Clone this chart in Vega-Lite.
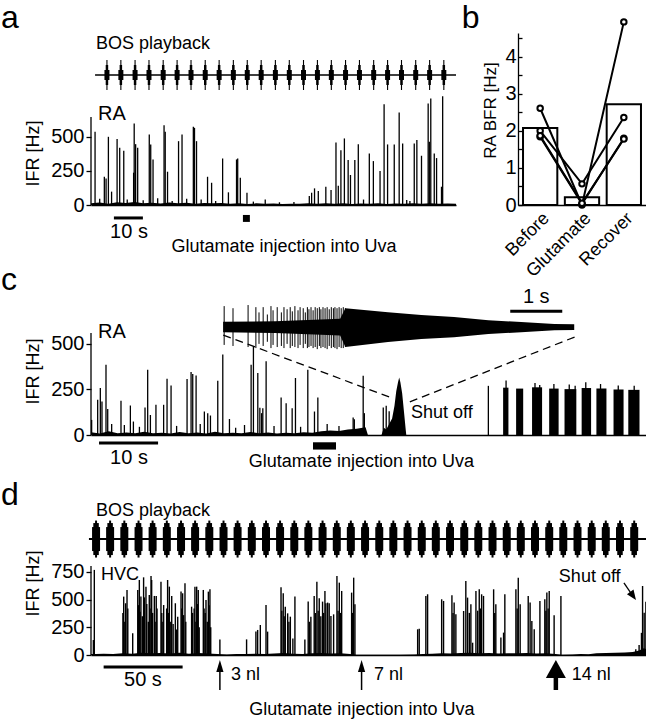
{
  "$schema": "https://vega.github.io/schema/vega-lite/v6.json",
  "background": "white",
  "padding": {"left": 0, "top": 2, "right": 0, "bottom": 0},
  "bounds": "flush",
  "spacing": 427,
  "config": {
    "view": {"stroke": null},
    "font": "Liberation Sans",
    "axis": {"grid": false, "domainColor": "black", "domainWidth": 1.3, "tickColor": "black", "tickWidth": 1.3, "tickSize": 5, "labelColor": "black", "labelFontSize": 20, "labelPadding": 2, "titleColor": "black", "titleFontSize": 18, "titleFontWeight": "normal", "labelFont": "Liberation Sans", "titleFont": "Liberation Sans"},
    "text": {"font": "Liberation Sans", "color": "black"}
  },
  "datasets": {
    "bos_a": [{"t":5.5,"v":0},{"t":10.3,"v":0},{"t":15.2,"v":0},{"t":20.0,"v":0},{"t":24.9,"v":0},{"t":29.7,"v":0},{"t":34.5,"v":0},{"t":39.4,"v":0},{"t":44.2,"v":0},{"t":49.1,"v":0},{"t":53.9,"v":0},{"t":58.7,"v":0},{"t":63.6,"v":0},{"t":68.4,"v":0},{"t":73.3,"v":0},{"t":78.1,"v":0},{"t":82.9,"v":0},{"t":87.8,"v":0},{"t":92.6,"v":0},{"t":97.5,"v":0},{"t":102.3,"v":0},{"t":107.1,"v":0},{"t":112.0,"v":0},{"t":116.8,"v":0},{"t":121.7,"v":0}],
    "a_base": [{"t":0,"f":12},{"t":3,"f":18},{"t":6,"f":10},{"t":9,"f":20},{"t":12,"f":14},{"t":15,"f":22},{"t":18,"f":12},{"t":21,"f":16},{"t":24,"f":11},{"t":27,"f":18},{"t":30,"f":13},{"t":33,"f":17},{"t":36,"f":10},{"t":39,"f":15},{"t":42,"f":12},{"t":45,"f":14},{"t":48,"f":9},{"t":51,"f":13},{"t":54,"f":8},{"t":57,"f":12},{"t":60,"f":9},{"t":63,"f":11},{"t":66,"f":8},{"t":69,"f":10},{"t":72,"f":9},{"t":75,"f":12},{"t":78,"f":10},{"t":81,"f":13},{"t":84,"f":9},{"t":87,"f":12},{"t":90,"f":8},{"t":93,"f":11},{"t":96,"f":9},{"t":99,"f":12},{"t":102,"f":8},{"t":105,"f":11},{"t":108,"f":9},{"t":111,"f":12},{"t":114,"f":10},{"t":117,"f":13},{"t":120,"f":9},{"t":123,"f":11},{"t":125.9,"f":10}],
    "a_spk": [{"t":1.4,"f":537},{"t":4.6,"f":207},{"t":5.2,"f":195},{"t":6.0,"f":500},{"t":7.1,"f":98},{"t":9.0,"f":483},{"t":9.9,"f":420},{"t":11.3,"f":398},{"t":14.7,"f":237},{"t":14.9,"f":598},{"t":15.4,"f":446},{"t":16.1,"f":420},{"t":20.1,"f":517},{"t":20.6,"f":444},{"t":21.4,"f":334},{"t":25.2,"f":585},{"t":25.6,"f":537},{"t":26.4,"f":244},{"t":30.2,"f":468},{"t":31.4,"f":517},{"t":35.3,"f":573},{"t":35.7,"f":566},{"t":36.4,"f":468},{"t":40.2,"f":207},{"t":41.6,"f":163},{"t":45.4,"f":341},{"t":47.4,"f":93},{"t":50.2,"f":334},{"t":50.6,"f":341},{"t":51.5,"f":200},{"t":53.8,"f":90},{"t":60.1,"f":40},{"t":75.3,"f":66},{"t":76.1,"f":90},{"t":77.1,"f":122},{"t":78.4,"f":102},{"t":81.0,"f":134},{"t":82.8,"f":110},{"t":84.5,"f":459},{"t":85.3,"f":141},{"t":86.2,"f":402},{"t":87.4,"f":488},{"t":88.7,"f":329},{"t":89.5,"f":220},{"t":91.0,"f":329},{"t":92.2,"f":446},{"t":96.0,"f":378},{"t":97.4,"f":322},{"t":99.7,"f":249},{"t":101.1,"f":739},{"t":102.3,"f":444},{"t":104.6,"f":444},{"t":106.3,"f":678},{"t":107.5,"f":451},{"t":108.9,"f":37},{"t":111.5,"f":451},{"t":112.4,"f":476},{"t":114.0,"f":361},{"t":116.3,"f":744},{"t":116.7,"f":463},{"t":117.2,"f":780},{"t":118.4,"f":378},{"t":119.2,"f":344},{"t":120.9,"f":134},{"t":121.3,"f":798},{"t":3.0,"f":45},{"t":12.5,"f":40},{"t":18.0,"f":35},{"t":23.0,"f":50},{"t":28.0,"f":30},{"t":33.0,"f":45},{"t":38.0,"f":40},{"t":43.0,"f":30},{"t":56.0,"f":25},{"t":65.0,"f":20},{"t":70.0,"f":22},{"t":94.0,"f":40},{"t":110.0,"f":30}],
    "bars": [{"cond":"Before","v":2.08},{"cond":"Glutamate","v":0.21},{"cond":"Recover","v":2.72}],
    "units": [{"unit":"u1","cond":"Before","v":2.61},{"unit":"u1","cond":"Glutamate","v":0.0},{"unit":"u1","cond":"Recover","v":4.94},{"unit":"u2","cond":"Before","v":2.0},{"unit":"u2","cond":"Glutamate","v":0.57},{"unit":"u2","cond":"Recover","v":2.36},{"unit":"u3","cond":"Before","v":1.84},{"unit":"u3","cond":"Glutamate","v":0.03},{"unit":"u3","cond":"Recover","v":1.8},{"unit":"u4","cond":"Before","v":1.87},{"unit":"u4","cond":"Glutamate","v":0.05},{"unit":"u4","cond":"Recover","v":1.78}],
    "c_base": [{"t":0,"f":15},{"t":1.5,"f":8},{"t":3,"f":20},{"t":4.5,"f":10},{"t":6,"f":14},{"t":7.5,"f":9},{"t":9,"f":18},{"t":10.5,"f":10},{"t":12,"f":12},{"t":13.5,"f":8},{"t":15,"f":16},{"t":16.5,"f":10},{"t":18,"f":14},{"t":19.5,"f":8},{"t":21,"f":18},{"t":22.5,"f":10},{"t":24,"f":13},{"t":25.5,"f":9},{"t":27,"f":16},{"t":28.5,"f":10},{"t":30,"f":14},{"t":31.5,"f":8},{"t":33,"f":13},{"t":34.5,"f":10},{"t":36,"f":15},{"t":37.5,"f":12},{"t":39,"f":20},{"t":40.5,"f":25},{"t":42,"f":22},{"t":43.5,"f":30},{"t":45,"f":35},{"t":46.5,"f":42},{"t":46.9,"f":0}],
    "c_bump": [{"t":49.2,"f":0},{"t":49.6,"f":40},{"t":50.0,"f":30},{"t":50.5,"f":60},{"t":51.0,"f":90},{"t":51.4,"f":160},{"t":51.7,"f":240},{"t":52.0,"f":290},{"t":52.2,"f":316},{"t":52.4,"f":290},{"t":52.7,"f":230},{"t":53.0,"f":130},{"t":53.3,"f":30},{"t":53.4,"f":0}],
    "c_spk": [{"t":0.11,"f":83},{"t":1.13,"f":193},{"t":1.58,"f":258},{"t":1.86,"f":184},{"t":2.54,"f":386},{"t":2.83,"f":143},{"t":5.08,"f":188},{"t":5.65,"f":55},{"t":6.67,"f":162},{"t":7.18,"f":74},{"t":9.15,"f":151},{"t":9.6,"f":359},{"t":10.06,"f":110},{"t":11.0,"f":166},{"t":12.3,"f":166},{"t":12.88,"f":309},{"t":13.56,"f":272},{"t":16.27,"f":307},{"t":16.95,"f":346},{"t":17.23,"f":335},{"t":17.8,"f":327},{"t":19.2,"f":129},{"t":19.77,"f":120},{"t":20.23,"f":107},{"t":21.47,"f":298},{"t":22.32,"f":442},{"t":23.45,"f":88},{"t":27.12,"f":386},{"t":27.51,"f":488},{"t":28.25,"f":340},{"t":28.6,"f":150},{"t":28.9,"f":120},{"t":29.1,"f":147},{"t":29.66,"f":405},{"t":32.2,"f":206},{"t":33.05,"f":175},{"t":34.07,"f":147},{"t":34.63,"f":313},{"t":36.72,"f":359},{"t":37.85,"f":129},{"t":38.42,"f":206},{"t":44.4,"f":96},{"t":44.6,"f":86},{"t":46.1,"f":326},{"t":46.3,"f":120},{"t":49.5,"f":151},{"t":50.0,"f":160},{"t":50.5,"f":130},{"t":67.3,"f":270},{"t":3.5,"f":60},{"t":8.2,"f":45},{"t":14.5,"f":50},{"t":18.5,"f":60},{"t":24.5,"f":40},{"t":26.0,"f":55},{"t":31.0,"f":50},{"t":35.5,"f":45},{"t":40.0,"f":60},{"t":42.0,"f":50},{"t":70.3,"f":300},{"t":75.2,"f":285},{"t":76.0,"f":275},{"t":78.4,"f":280},{"t":81.0,"f":278},{"t":82.0,"f":270},{"t":83.8,"f":290},{"t":86.3,"f":280},{"t":89.3,"f":272},{"t":92.0,"f":270}],
    "c_burst": [{"t":69.8,"t2":70.7,"f":260},{"t":72.0,"t2":73.2,"f":255},{"t":74.7,"t2":76.4,"f":262},{"t":77.6,"t2":79.2,"f":255},{"t":80.2,"t2":82.2,"f":252},{"t":83.1,"t2":84.7,"f":258},{"t":85.6,"t2":87.3,"f":255},{"t":88.5,"t2":90.2,"f":250},{"t":91.0,"t2":92.9,"f":248}],
    "inset_env": [{"ti":0,"w":0.25,"w2":-0.25},{"ti":1.0,"w":0.28,"w2":-0.28},{"ti":2.25,"w":0.4,"w2":-0.4},{"ti":2.35,"w":0.9,"w2":-0.95},{"ti":3.17,"w":0.71,"w2":-0.71},{"ti":3.81,"w":0.57,"w2":-0.57},{"ti":4.44,"w":0.48,"w2":-0.48},{"ti":5.1,"w":0.33,"w2":-0.33},{"ti":5.73,"w":0.24,"w2":-0.24},{"ti":6.37,"w":0.15,"w2":-0.15},{"ti":6.75,"w":0.14,"w2":-0.14}],
    "inset_spk": [{"ti":0.02,"w":1.0,"w2":-0.85},{"ti":0.19,"w":0.9,"w2":-0.9},{"ti":0.48,"w":1.05,"w2":-0.95},{"ti":0.63,"w":0.95,"w2":-1.0},{"ti":0.69,"w":0.7,"w2":-0.8},{"ti":0.77,"w":0.95,"w2":-0.9},{"ti":0.85,"w":0.6,"w2":-0.7},{"ti":0.92,"w":1.0,"w2":-1.0},{"ti":0.96,"w":0.8,"w2":-0.85},{"ti":1.04,"w":0.95,"w2":-0.95},{"ti":1.12,"w":0.7,"w2":-0.9},{"ti":1.17,"w":0.95,"w2":-1.0},{"ti":1.23,"w":0.85,"w2":-0.8},{"ti":1.29,"w":0.95,"w2":-1.0},{"ti":1.33,"w":0.75,"w2":-0.9},{"ti":1.38,"w":1.0,"w2":-0.95},{"ti":1.44,"w":0.8,"w2":-1.0},{"ti":1.48,"w":0.95,"w2":-0.85},{"ti":1.54,"w":0.9,"w2":-1.0},{"ti":1.58,"w":0.7,"w2":-0.8},{"ti":1.62,"w":0.95,"w2":-1.0},{"ti":1.65,"w":0.85,"w2":-0.95},{"ti":1.69,"w":0.95,"w2":-0.9},{"ti":1.73,"w":0.8,"w2":-1.0},{"ti":1.77,"w":0.95,"w2":-0.95},{"ti":1.81,"w":0.9,"w2":-1.05},{"ti":1.85,"w":0.95,"w2":-0.9},{"ti":1.88,"w":0.85,"w2":-1.0},{"ti":1.92,"w":0.95,"w2":-0.95},{"ti":1.96,"w":0.9,"w2":-1.0},{"ti":2.0,"w":0.95,"w2":-1.05},{"ti":2.04,"w":0.85,"w2":-0.9},{"ti":2.08,"w":0.95,"w2":-1.0},{"ti":2.12,"w":0.9,"w2":-0.95},{"ti":2.15,"w":0.95,"w2":-1.0},{"ti":2.19,"w":0.9,"w2":-1.05},{"ti":2.23,"w":0.95,"w2":-0.95},{"ti":2.27,"w":0.9,"w2":-1.0},{"ti":2.31,"w":0.95,"w2":-1.0},{"ti":2.35,"w":0.9,"w2":-0.95}],
    "bos_d": [{"t":3.2,"v":0},{"t":12.1,"v":0},{"t":21.1,"v":0},{"t":30.1,"v":0},{"t":39.0,"v":0},{"t":48.0,"v":0},{"t":57.0,"v":0},{"t":65.9,"v":0},{"t":74.9,"v":0},{"t":83.9,"v":0},{"t":92.8,"v":0},{"t":101.8,"v":0},{"t":110.8,"v":0},{"t":119.7,"v":0},{"t":128.7,"v":0},{"t":137.6,"v":0},{"t":146.6,"v":0},{"t":155.6,"v":0},{"t":164.5,"v":0},{"t":173.5,"v":0},{"t":182.5,"v":0},{"t":191.4,"v":0},{"t":200.4,"v":0},{"t":209.4,"v":0},{"t":218.3,"v":0},{"t":227.3,"v":0},{"t":236.3,"v":0},{"t":245.2,"v":0},{"t":254.2,"v":0},{"t":263.2,"v":0},{"t":272.1,"v":0},{"t":281.1,"v":0},{"t":290.1,"v":0},{"t":299.0,"v":0},{"t":308.0,"v":0},{"t":317.0,"v":0},{"t":325.9,"v":0},{"t":334.9,"v":0},{"t":343.9,"v":0}],
    "d_base": [{"t":0,"f":10},{"t":3,"f":8},{"t":8,"f":12},{"t":14,"f":10},{"t":20,"f":15},{"t":26,"f":12},{"t":32,"f":20},{"t":38,"f":15},{"t":44,"f":18},{"t":50,"f":14},{"t":56,"f":20},{"t":62,"f":12},{"t":68,"f":18},{"t":74,"f":14},{"t":80,"f":8},{"t":86,"f":5},{"t":92,"f":10},{"t":98,"f":8},{"t":104,"f":12},{"t":110,"f":10},{"t":116,"f":14},{"t":122,"f":18},{"t":128,"f":12},{"t":134,"f":10},{"t":140,"f":15},{"t":146,"f":18},{"t":152,"f":14},{"t":158,"f":16},{"t":164,"f":10},{"t":168,"f":3},{"t":175,"f":2},{"t":185,"f":3},{"t":195,"f":2},{"t":205,"f":4},{"t":210,"f":10},{"t":216,"f":12},{"t":222,"f":15},{"t":228,"f":14},{"t":234,"f":18},{"t":240,"f":20},{"t":246,"f":16},{"t":252,"f":18},{"t":258,"f":14},{"t":264,"f":16},{"t":270,"f":15},{"t":276,"f":18},{"t":282,"f":14},{"t":288,"f":16},{"t":294,"f":10},{"t":298,"f":3},{"t":305,"f":5},{"t":310,"f":10},{"t":315,"f":6},{"t":320,"f":15},{"t":326,"f":18},{"t":332,"f":20},{"t":338,"f":22},{"t":343,"f":28},{"t":347,"f":40},{"t":350,"f":60},{"t":352,"f":50}],
    "d_spk": [{"t":1.5,"f":135},{"t":2.1,"f":768},{"t":20.2,"f":380},{"t":20.7,"f":527},{"t":21.4,"f":300},{"t":21.9,"f":467},{"t":22.8,"f":587},{"t":23.3,"f":420},{"t":26.4,"f":196},{"t":29.6,"f":587},{"t":30.1,"f":450},{"t":30.6,"f":677},{"t":31.1,"f":390},{"t":31.6,"f":527},{"t":32.5,"f":350},{"t":33.3,"f":701},{"t":33.8,"f":520},{"t":34.8,"f":617},{"t":35.3,"f":460},{"t":36.3,"f":300},{"t":36.9,"f":542},{"t":37.4,"f":420},{"t":38.0,"f":713},{"t":38.4,"f":677},{"t":39.0,"f":380},{"t":40.1,"f":533},{"t":40.6,"f":300},{"t":41.3,"f":533},{"t":41.8,"f":420},{"t":44.3,"f":662},{"t":44.8,"f":380},{"t":45.5,"f":300},{"t":46.0,"f":451},{"t":47.9,"f":420},{"t":48.5,"f":677},{"t":49.1,"f":380},{"t":49.6,"f":617},{"t":50.5,"f":300},{"t":51.1,"f":533},{"t":52.0,"f":280},{"t":53.4,"f":467},{"t":54.0,"f":230},{"t":54.9,"f":346},{"t":57.0,"f":572},{"t":57.5,"f":420},{"t":58.0,"f":557},{"t":58.6,"f":360},{"t":59.5,"f":647},{"t":60.0,"f":300},{"t":63.7,"f":436},{"t":64.3,"f":380},{"t":65.3,"f":420},{"t":65.8,"f":617},{"t":66.4,"f":300},{"t":66.9,"f":617},{"t":67.4,"f":460},{"t":67.9,"f":587},{"t":68.5,"f":250},{"t":71.1,"f":587},{"t":71.6,"f":420},{"t":72.3,"f":380},{"t":72.8,"f":497},{"t":73.6,"f":300},{"t":74.3,"f":572},{"t":74.8,"f":450},{"t":75.3,"f":593},{"t":75.8,"f":250},{"t":81.6,"f":141},{"t":98.5,"f":141},{"t":104.4,"f":211},{"t":105.5,"f":226},{"t":107.2,"f":271},{"t":110.8,"f":451},{"t":111.8,"f":211},{"t":120.3,"f":611},{"t":120.8,"f":400},{"t":121.7,"f":557},{"t":122.3,"f":350},{"t":123.0,"f":436},{"t":124.5,"f":376},{"t":125.3,"f":300},{"t":126.2,"f":346},{"t":127.8,"f":150},{"t":129.1,"f":527},{"t":135.4,"f":141},{"t":137.5,"f":482},{"t":138.2,"f":300},{"t":139.2,"f":346},{"t":141.3,"f":533},{"t":142.0,"f":380},{"t":143.0,"f":662},{"t":143.8,"f":400},{"t":144.5,"f":512},{"t":145.5,"f":350},{"t":146.6,"f":482},{"t":147.3,"f":380},{"t":148.1,"f":578},{"t":148.7,"f":467},{"t":149.8,"f":473},{"t":150.8,"f":467},{"t":151.9,"f":352},{"t":153.6,"f":367},{"t":155.7,"f":713},{"t":156.4,"f":400},{"t":157.2,"f":653},{"t":158.0,"f":380},{"t":158.7,"f":578},{"t":165.0,"f":563},{"t":165.6,"f":380},{"t":166.3,"f":698},{"t":167.1,"f":457},{"t":206.8,"f":232},{"t":207.8,"f":238},{"t":212.0,"f":533},{"t":213.1,"f":548},{"t":222.0,"f":503},{"t":223.2,"f":488},{"t":228.5,"f":539},{"t":229.2,"f":380},{"t":229.9,"f":473},{"t":231.0,"f":367},{"t":235.9,"f":397},{"t":237.3,"f":668},{"t":238.4,"f":518},{"t":239.5,"f":380},{"t":240.5,"f":457},{"t":241.6,"f":111},{"t":243.7,"f":578},{"t":244.8,"f":400},{"t":245.8,"f":593},{"t":246.5,"f":420},{"t":247.3,"f":548},{"t":248.5,"f":533},{"t":254.9,"f":593},{"t":255.6,"f":380},{"t":256.3,"f":457},{"t":259.5,"f":157},{"t":261.2,"f":202},{"t":262.0,"f":548},{"t":269.0,"f":593},{"t":269.8,"f":420},{"t":270.5,"f":698},{"t":271.7,"f":457},{"t":276.8,"f":533},{"t":278.0,"f":473},{"t":279.1,"f":307},{"t":280.6,"f":232},{"t":284.2,"f":488},{"t":287.3,"f":503},{"t":288.0,"f":400},{"t":288.6,"f":563},{"t":289.4,"f":420},{"t":290.1,"f":578},{"t":293.2,"f":358},{"t":297.5,"f":533},{"t":344.9,"f":51},{"t":347.0,"f":90},{"t":348.5,"f":200},{"t":349.2,"f":623},{"t":350.2,"f":382},{"t":351.3,"f":480}]
  },
  "hconcat": [
    {
      "vconcat": [
        {
          "width": 365, "height": 172,
          "layer": [
            {
              "encoding": {
                "x": {"field": "t", "type": "quantitative", "scale": {"domain": [0, 125.9], "nice": false, "zero": false}, "axis": {"labels": false, "ticks": false, "title": null, "domain": true}},
                "y": {"field": "f", "type": "quantitative", "scale": {"domain": [0, 1261], "nice": false}, "axis": {"values": [0, 250, 500], "domain": false, "title": "IFR [Hz]", "titleX": -49, "titleY": 120}}
              },
              "layer": [
                {"data": {"name": "a_base"}, "mark": {"type": "area", "color": "black"}},
                {"data": {"name": "a_spk"}, "mark": {"type": "rule", "color": "black", "strokeWidth": 1.3}, "encoding": {"y2": {"datum": 0}}},
                {"data": {"values": [{"t": 0, "f": 0, "f2": 645}]}, "mark": {"type": "rule", "color": "black", "strokeWidth": 1.3}, "encoding": {"y2": {"field": "f2"}}},
                {"data": {"values": [{"t": 7.9, "t2": 17.9, "f": -95}]}, "mark": {"type": "rule", "color": "black", "strokeWidth": 3}, "encoding": {"x2": {"field": "t2"}}},
                {"data": {"values": [{"t": 52.4, "t2": 54.8, "f": -73, "f2": -124}]}, "mark": {"type": "rect", "color": "black"}, "encoding": {"x2": {"field": "t2"}, "y2": {"field": "f2"}}},
                {"data": {"values": [{"t": 2.4, "f": 667, "s": "RA"}]}, "mark": {"type": "text", "fontSize": 20, "align": "left", "baseline": "middle"}, "encoding": {"text": {"field": "s"}}},
                {"data": {"values": [{"t": 13.1, "f": -198, "s": "10 s"}]}, "mark": {"type": "text", "fontSize": 20, "align": "center", "baseline": "middle"}, "encoding": {"text": {"field": "s"}}},
                {"data": {"values": [{"t": 66.6, "f": -308, "s": "Glutamate injection into Uva"}]}, "mark": {"type": "text", "fontSize": 18, "align": "center", "baseline": "middle"}, "encoding": {"text": {"field": "s"}}}
              ]
            },
            {
              "encoding": {
                "x": {"field": "t", "type": "quantitative", "scale": {"domain": [0, 125.9], "nice": false, "zero": false}},
                "y": {"field": "v", "type": "quantitative", "scale": {"domain": [-8.67, 2.8], "nice": false, "zero": false}, "axis": null}
              },
              "layer": [
                {"data": {"values": [{"t": 1.4, "t2": 125.9, "v": 0}]}, "mark": {"type": "rule", "color": "black", "strokeWidth": 1.5}, "encoding": {"x2": {"field": "t2"}}},
                {"data": {"name": "bos_a"}, "mark": {"type": "tick", "orient": "vertical", "color": "black", "thickness": 5, "size": 10, "opacity": 1}},
                {"data": {"name": "bos_a"}, "mark": {"type": "tick", "orient": "vertical", "color": "black", "thickness": 2.5, "size": 20, "opacity": 1}},
                {"data": {"name": "bos_a"}, "mark": {"type": "tick", "orient": "vertical", "color": "black", "thickness": 1.1, "size": 30, "opacity": 1}},
                {"data": {"values": [{"t": -31.03, "v": 3.13, "s": "a"}, {"t": 127.9, "v": 3.13, "s": "b"}]}, "mark": {"type": "text", "fontSize": 32, "align": "left", "baseline": "alphabetic"}, "encoding": {"text": {"field": "s"}}},
                {"data": {"values": [{"t": 1.7, "v": 2.07, "s": "BOS playback"}]}, "mark": {"type": "text", "fontSize": 18, "align": "left", "baseline": "middle"}, "encoding": {"text": {"field": "s"}}}
              ]
            }
          ],
          "resolve": {"scale": {"y": "independent"}}
        },
        {
          "width": 555, "height": 152,
          "layer": [
            {
              "encoding": {
                "x": {"field": "t", "type": "quantitative", "scale": {"domain": [0, 94], "nice": false, "zero": false}, "axis": {"labels": false, "ticks": false, "title": null, "domain": true}},
                "y": {"field": "f", "type": "quantitative", "scale": {"domain": [0, 835], "nice": false}, "axis": {"values": [0, 250, 500], "domain": false, "title": "IFR [Hz]", "titleX": -49, "titleY": 88}}
              },
              "layer": [
                {"data": {"name": "c_base"}, "mark": {"type": "area", "color": "black"}},
                {"data": {"name": "c_bump"}, "mark": {"type": "area", "color": "black"}},
                {"data": {"name": "c_spk"}, "mark": {"type": "rule", "color": "black", "strokeWidth": 1.3}, "encoding": {"y2": {"datum": 0}}},
                {"data": {"name": "c_burst"}, "mark": {"type": "rect", "color": "black"}, "encoding": {"x2": {"field": "t2"}, "y2": {"datum": 0}}},
                {"data": {"values": [{"t": 0, "f": 0, "f2": 560}]}, "mark": {"type": "rule", "color": "black", "strokeWidth": 1.3}, "encoding": {"y2": {"field": "f2"}}},
                {"data": {"values": [{"t": 1.36, "t2": 11.36, "f": -44}]}, "mark": {"type": "rule", "color": "black", "strokeWidth": 3}, "encoding": {"x2": {"field": "t2"}}},
                {"data": {"values": [{"t": 37.6, "t2": 41.5, "f": -40, "f2": -80}]}, "mark": {"type": "rect", "color": "black"}, "encoding": {"x2": {"field": "t2"}, "y2": {"field": "f2"}}},
                {"data": {"values": [{"t": 22.4, "f": 549, "t2": 50.5, "f2": 209}, {"t": 81.9, "f": 538, "t2": 53.9, "f2": 181}]}, "mark": {"type": "rule", "color": "black", "strokeWidth": 1.3, "strokeDash": [8, 5]}, "encoding": {"x2": {"field": "t2"}, "y2": {"field": "f2"}}},
                {"data": {"values": [{"t": 1.2, "f": 566, "s": "RA"}]}, "mark": {"type": "text", "fontSize": 20, "align": "left", "baseline": "middle"}, "encoding": {"text": {"field": "s"}}},
                {"data": {"values": [{"t": 54.2, "f": 121, "s": "Shut off"}]}, "mark": {"type": "text", "fontSize": 18, "align": "left", "baseline": "middle"}, "encoding": {"text": {"field": "s"}}},
                {"data": {"values": [{"t": 6.44, "f": -126, "s": "10 s"}]}, "mark": {"type": "text", "fontSize": 20, "align": "center", "baseline": "middle"}, "encoding": {"text": {"field": "s"}}},
                {"data": {"values": [{"t": 45.8, "f": -148, "s": "Glutamate injection into Uva"}]}, "mark": {"type": "text", "fontSize": 18, "align": "center", "baseline": "middle"}, "encoding": {"text": {"field": "s"}}},
                {"data": {"values": [{"t": -15.25, "f": 797, "s": "c"}]}, "mark": {"type": "text", "fontSize": 32, "align": "left", "baseline": "alphabetic"}, "encoding": {"text": {"field": "s"}}}
              ]
            },
            {
              "encoding": {
                "x": {"field": "ti", "type": "quantitative", "scale": {"domain": [-2.54, 8.13], "nice": false, "zero": false}, "axis": null},
                "y": {"field": "w", "type": "quantitative", "scale": {"domain": [-5.14, 2.1], "nice": false, "zero": false}, "axis": null}
              },
              "layer": [
                {"data": {"name": "inset_env"}, "mark": {"type": "area", "color": "black"}, "encoding": {"y2": {"field": "w2"}}},
                {"data": {"name": "inset_spk"}, "mark": {"type": "rule", "color": "black", "strokeWidth": 1}, "encoding": {"y2": {"field": "w2"}}},
                {"data": {"values": [{"ti": 5.52, "ti2": 6.52, "w": 0.76}]}, "mark": {"type": "rule", "color": "black", "strokeWidth": 3}, "encoding": {"x2": {"field": "ti2"}}},
                {"data": {"values": [{"ti": 6.02, "w": 1.43, "s": "1 s"}]}, "mark": {"type": "text", "fontSize": 20, "align": "center", "baseline": "middle"}, "encoding": {"text": {"field": "s"}}}
              ]
            }
          ],
          "resolve": {"scale": {"x": "independent", "y": "independent"}}
        },
        {
          "width": 556, "height": 142,
          "layer": [
            {
              "encoding": {
                "x": {"field": "t", "type": "quantitative", "scale": {"domain": [0, 352], "nice": false, "zero": false}, "axis": {"labels": false, "ticks": false, "title": null, "domain": true}},
                "y": {"field": "f", "type": "quantitative", "scale": {"domain": [0, 1281.6], "nice": false}, "axis": {"values": [0, 250, 500, 750], "domain": false, "title": "IFR [Hz]", "titleX": -49, "titleY": 70}}
              },
              "layer": [
                {"data": {"name": "d_base"}, "mark": {"type": "area", "color": "black"}},
                {"data": {"name": "d_spk"}, "mark": {"type": "rule", "color": "black", "strokeWidth": 1.4}, "encoding": {"y2": {"datum": 0}}},
                {"data": {"values": [{"t": 0, "f": 0, "f2": 803}]}, "mark": {"type": "rule", "color": "black", "strokeWidth": 1.3}, "encoding": {"y2": {"field": "f2"}}},
                {"data": {"values": [{"t": 8.0, "t2": 58.0, "f": -108}]}, "mark": {"type": "rule", "color": "black", "strokeWidth": 3}, "encoding": {"x2": {"field": "t2"}}},
                {"data": {"values": [{"t": 81.6, "f": -316, "f2": -105}, {"t": 171.3, "f": -316, "f2": -105}]}, "mark": {"type": "rule", "color": "black", "strokeWidth": 1.5}, "encoding": {"y2": {"field": "f2"}}},
                {"data": {"values": [{"t": 294.3, "f": -316, "f2": -170}]}, "mark": {"type": "rule", "color": "black", "strokeWidth": 4.5}, "encoding": {"y2": {"field": "f2"}}},
                {"data": {"values": [{"t": 81.6, "f": -99}, {"t": 171.3, "f": -99}]}, "mark": {"type": "point", "shape": "M-0.6,1L0,-1L0.6,1Z", "filled": true, "color": "black", "size": 144, "opacity": 1}},
                {"data": {"values": [{"t": 294.3, "f": -126}]}, "mark": {"type": "point", "shape": "M-1,0.9L0,-0.9L1,0.9Z", "filled": true, "color": "black", "size": 400, "opacity": 1}},
                {"data": {"values": [{"t": 337.4, "f": 650, "t2": 343.1, "f2": 532}]}, "mark": {"type": "rule", "color": "black", "strokeWidth": 1.3}, "encoding": {"x2": {"field": "t2"}, "y2": {"field": "f2"}}},
                {"data": {"values": [{"t": 343.2, "f": 533}]}, "mark": {"type": "point", "shape": "M-0.8,1L0,-1L0.8,1Z", "filled": true, "color": "black", "size": 100, "angle": 145, "opacity": 1}},
                {"data": {"values": [{"t": 6.3, "f": 722, "s": "HVC"}, {"t": 88.6, "f": -181, "s": "3 nl"}, {"t": 179.1, "f": -181, "s": "7 nl"}, {"t": 304.4, "f": -181, "s": "14 nl"}, {"t": 296.2, "f": 704, "s": "Shut off"}]}, "mark": {"type": "text", "fontSize": 18, "align": "left", "baseline": "middle"}, "encoding": {"text": {"field": "s"}}},
                {"data": {"values": [{"t": 32.9, "f": -226, "s": "50 s"}]}, "mark": {"type": "text", "fontSize": 20, "align": "center", "baseline": "middle"}, "encoding": {"text": {"field": "s"}}},
                {"data": {"values": [{"t": 171.5, "f": -496, "s": "Glutamate injection into Uva"}]}, "mark": {"type": "text", "fontSize": 18, "align": "center", "baseline": "middle"}, "encoding": {"text": {"field": "s"}}}
              ]
            },
            {
              "encoding": {
                "x": {"field": "t", "type": "quantitative", "scale": {"domain": [0, 352], "nice": false, "zero": false}},
                "y": {"field": "v", "type": "quantitative", "scale": {"domain": [-6.14, 1.38], "nice": false, "zero": false}, "axis": null}
              },
              "layer": [
                {"data": {"values": [{"t": -1.3, "t2": 352, "v": 0}]}, "mark": {"type": "rule", "color": "black", "strokeWidth": 2}, "encoding": {"x2": {"field": "t2"}}},
                {"data": {"name": "bos_d"}, "mark": {"type": "tick", "orient": "vertical", "color": "black", "thickness": 8, "size": 24, "opacity": 1}},
                {"data": {"name": "bos_d"}, "mark": {"type": "tick", "orient": "vertical", "color": "black", "thickness": 5.5, "size": 32, "opacity": 1}},
                {"data": {"name": "bos_d"}, "mark": {"type": "tick", "orient": "vertical", "color": "black", "thickness": 2, "size": 37, "opacity": 1}},
                {"data": {"values": [{"t": 3.2, "v": 1.49, "s": "BOS playback"}]}, "mark": {"type": "text", "fontSize": 18, "align": "left", "baseline": "middle"}, "encoding": {"text": {"field": "s"}}},
                {"data": {"values": [{"t": -56.98, "v": 1.8, "s": "d"}]}, "mark": {"type": "text", "fontSize": 32, "align": "left", "baseline": "alphabetic"}, "encoding": {"text": {"field": "s"}}}
              ]
            }
          ],
          "resolve": {"scale": {"y": "independent"}}
        }
      ],
      "spacing": 78,
      "bounds": "flush"
    },
    {
      "width": 128, "height": 172,
      "encoding": {
        "x": {"field": "cond", "type": "nominal", "sort": ["Before", "Glutamate", "Recover"], "scale": {"paddingInner": 0.18, "paddingOuter": 0.12}, "axis": {"title": null, "labelAngle": -45, "ticks": false, "labelFontSize": 18, "labelPadding": 4}},
        "y": {"field": "v", "type": "quantitative", "scale": {"domain": [0, 4.64], "nice": false}, "axis": {"values": [0, 0.5, 1, 1.5, 2, 2.5, 3, 3.5, 4, 4.5], "labelExpr": "datum.value % 1 === 0 ? format(datum.value, 'd') : ''", "tickSize": -4, "labelPadding": 6, "title": "RA BFR [Hz]", "titleFontSize": 17, "titleX": -19, "titleY": 77, "labelFontSize": 20}}
      },
      "layer": [
        {"data": {"name": "bars"}, "mark": {"type": "bar", "fill": "white", "stroke": "black", "strokeWidth": 2}},
        {"data": {"name": "units"}, "mark": {"type": "line", "color": "black", "strokeWidth": 2}, "encoding": {"detail": {"field": "unit"}}},
        {"data": {"name": "units"}, "mark": {"type": "circle", "fill": "white", "stroke": "black", "strokeWidth": 2, "size": 30, "opacity": 1}}
      ]
    }
  ]
}
